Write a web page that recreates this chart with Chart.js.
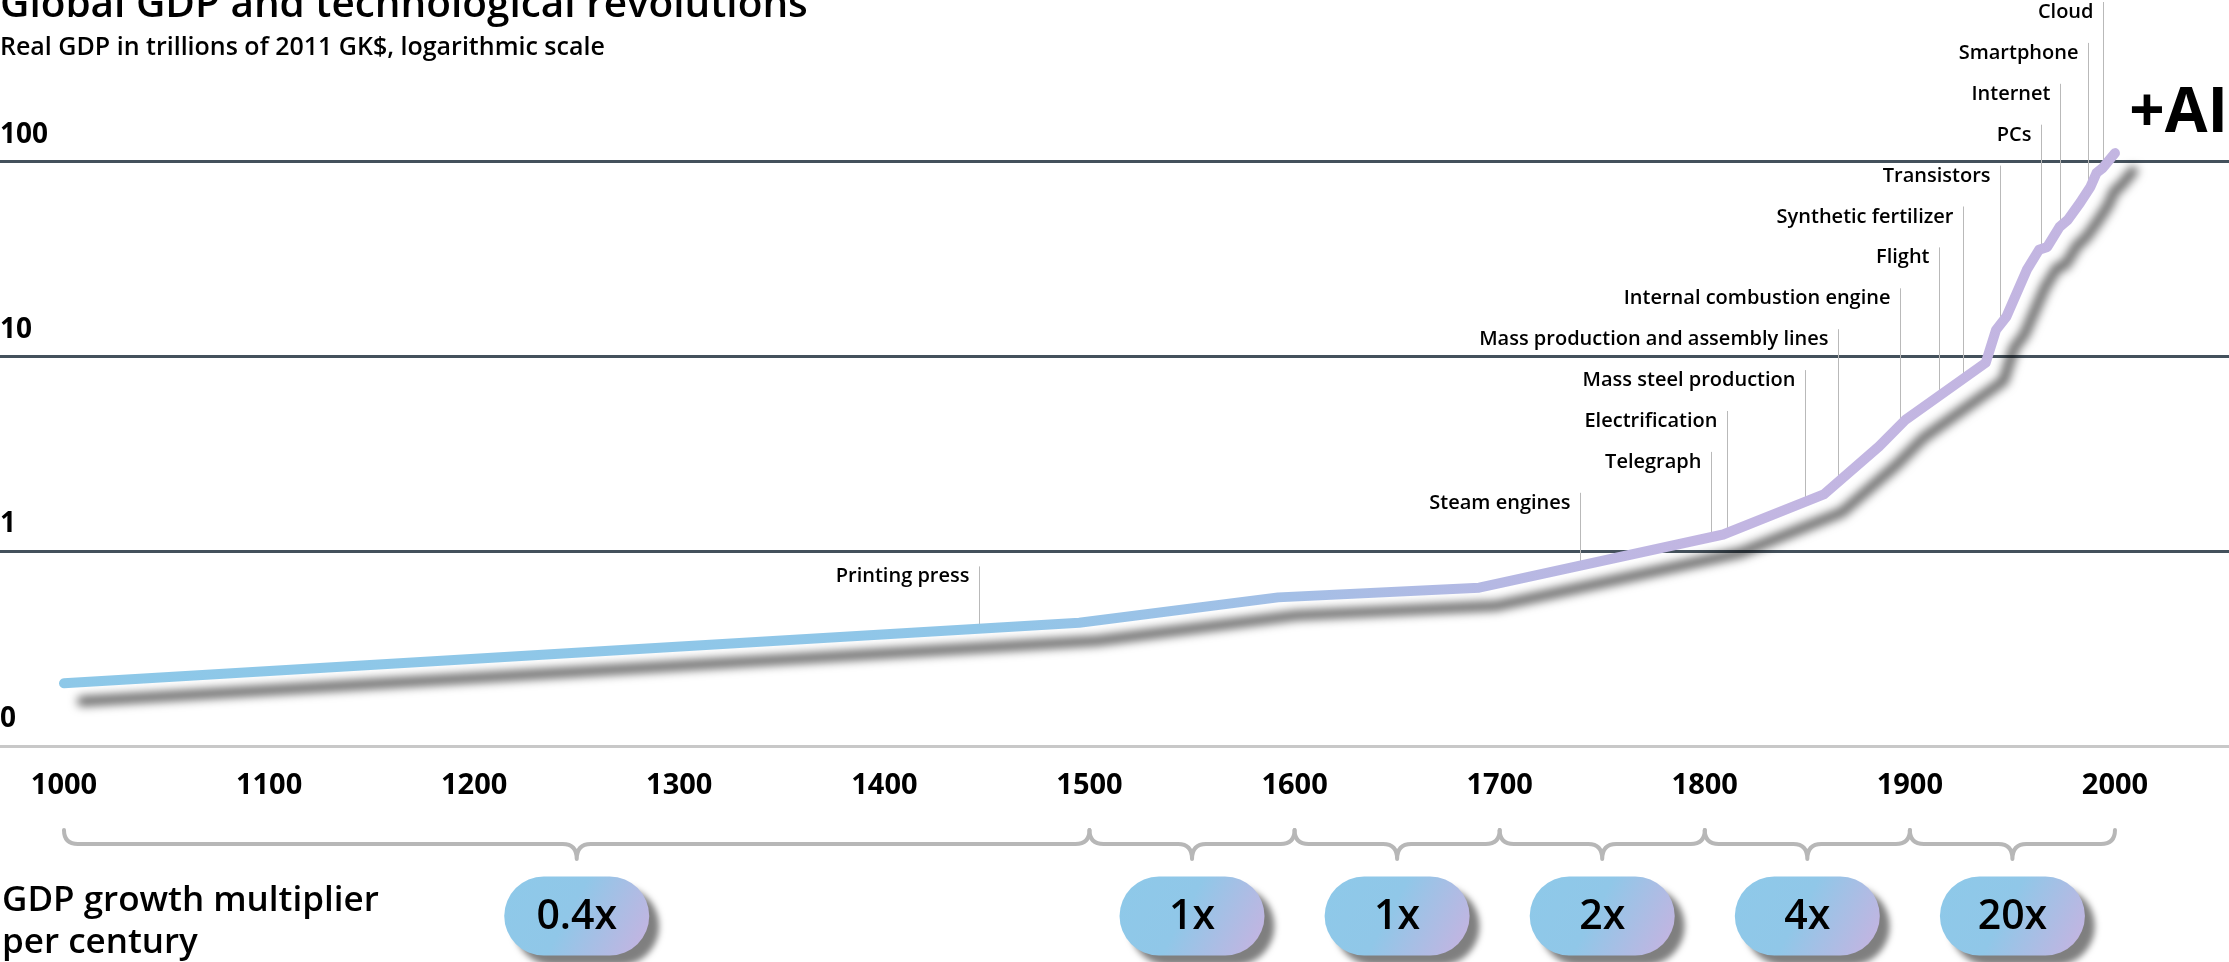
<!DOCTYPE html>
<html>
<head>
<meta charset="utf-8">
<title>Global GDP and technological revolutions</title>
<script src="https://cdn.jsdelivr.net/npm/chart.js@4.4.1/dist/chart.umd.min.js"></script>
<style>
  html, body { margin: 0; padding: 0; background: #fff; }
  #wrap { width: 2229px; height: 962px; position: relative; overflow: hidden; }
</style>
</head>
<body>
<div id="wrap"><canvas id="gdpChart"></canvas></div>
<script>
// --- data ---
const years = [1000, 1495, 1592, 1690, 1809, 1858, 1885, 1898, 1937, 1942, 1947, 1957, 1963, 1967, 1973, 1977, 1983, 1988, 1991, 1994, 2000];
const gdp = [0.21, 0.43, 0.58, 0.65, 1.22, 1.96, 3.46, 4.75, 9.3, 13.7, 16.0, 27.9, 35.4, 36.6, 46.4, 50.4, 61.7, 74.4, 87.8, 93.1, 111];

const xTicks = [1000, 1100, 1200, 1300, 1400, 1500, 1600, 1700, 1800, 1900, 2000];
const xTickLabels = ["1000", "1100", "1200", "1300", "1400", "1500", "1600", "1700", "1800", "1900", "2000"];
const yTicks = [0.1, 1, 10, 100];
const yTickLabels = ["0", "1", "10", "100"];

const eventNames = ["Printing press", "Steam engines", "Telegraph", "Electrification", "Mass steel production",
  "Mass production and assembly lines", "Internal combustion engine", "Flight", "Synthetic fertilizer",
  "Transistors", "PCs", "Internet", "Smartphone", "Cloud"];
const eventYears = [1446, 1739, 1803, 1811, 1849, 1865, 1895, 1914, 1926, 1944, 1964, 1973, 1987, 1994];

const periodStarts = [1000, 1500, 1600, 1700, 1800, 1900];
const periodEnds = [1500, 1600, 1700, 1800, 1900, 2000];
const multipliers = ["0.4x", "1x", "1x", "2x", "4x", "20x"];

const FONT = '"Open Sans", "Noto Sans", sans-serif';
Chart.defaults.font.family = FONT;
Chart.defaults.color = "#000";

// value of the series at any year (straight segments on the log scale)
function gdpAt(year) {
  for (let i = 1; i < years.length; i++) {
    if (year <= years[i]) {
      const t = (year - years[i - 1]) / (years[i] - years[i - 1]);
      const a = Math.log10(gdp[i - 1]);
      const b = Math.log10(gdp[i]);
      return Math.pow(10, a + t * (b - a));
    }
  }
  return gdp[gdp.length - 1];
}

// drop shadow under the line
const lineShadow = {
  id: "lineShadow",
  beforeDatasetDraw(chart) {
    const c = chart.ctx;
    c.save();
    c.shadowColor = "rgba(0,0,0,0.6)";
    c.shadowBlur = 10;
    c.shadowOffsetX = 18;
    c.shadowOffsetY = 18;
  },
  afterDatasetDraw(chart) {
    chart.ctx.restore();
  },
};

// leader lines + event names
const eventLabels = {
  id: "eventLabels",
  beforeDatasetsDraw(chart) {
    const { ctx, scales } = chart;
    const order = eventYears.map((_, i) => i).sort((a, b) => eventYears[b] - eventYears[a]);
    ctx.save();
    ctx.font = `600 20px ${FONT}`;
    ctx.textAlign = "right";
    ctx.textBaseline = "alphabetic";
    order.forEach((idx, row) => {
      const yr = eventYears[idx];
      const px = Math.round(scales.x.getPixelForValue(yr)) + 0.5;
      const r = yr < 1500 ? row + 0.8 : row;
      const top = 2 + r * 40.9;
      const bottom = scales.y.getPixelForValue(gdpAt(yr));
      ctx.strokeStyle = "#b9b9b9";
      ctx.lineWidth = 1;
      ctx.beginPath();
      ctx.moveTo(px, top);
      ctx.lineTo(px, bottom);
      ctx.stroke();
      ctx.fillStyle = "#000";
      ctx.fillText(eventNames[idx], px - 10, top + 16);
    });
    ctx.restore();
  },
};

// title, +AI, braces and multiplier bubbles
const decorations = {
  id: "decorations",
  afterDraw(chart) {
    const { ctx, scales } = chart;
    ctx.save();
    ctx.fillStyle = "#000";
    ctx.textAlign = "left";
    ctx.textBaseline = "alphabetic";
    ctx.font = `600 40.5px ${FONT}`;
    ctx.fillText("Global GDP and technological revolutions", 0, 17);
    ctx.font = `600 25px ${FONT}`;
    ctx.fillText("Real GDP in trillions of 2011 GK$, logarithmic scale", 0, 55);

    ctx.font = `700 62px ${FONT}`;
    ctx.textAlign = "right";
    ctx.fillText("+AI", 2228, 132);

    ctx.textAlign = "left";
    ctx.font = `600 35px ${FONT}`;
    ctx.fillText("GDP growth multiplier", 2, 911);
    ctx.fillText("per century", 2, 953);

    // braces
    ctx.strokeStyle = "#b7b7b7";
    ctx.lineWidth = 4;
    ctx.lineCap = "round";
    ctx.lineJoin = "round";
    const yTop = 830, yBar = 844, yTip = 859, k = 14;
    periodStarts.forEach((s, i) => {
      const x0 = scales.x.getPixelForValue(s);
      const x1 = scales.x.getPixelForValue(periodEnds[i]);
      const mid = (x0 + x1) / 2;
      ctx.beginPath();
      ctx.moveTo(x0, yTop);
      ctx.quadraticCurveTo(x0, yBar, x0 + k, yBar);
      ctx.lineTo(mid - k, yBar);
      ctx.quadraticCurveTo(mid, yBar, mid, yTip);
      ctx.quadraticCurveTo(mid, yBar, mid + k, yBar);
      ctx.lineTo(x1 - k, yBar);
      ctx.quadraticCurveTo(x1, yBar, x1, yTop);
      ctx.stroke();
    });

    // bubbles
    const bw = 145, bh = 79, cy = 916;
    multipliers.forEach((m, i) => {
      const x0 = scales.x.getPixelForValue(periodStarts[i]);
      const x1 = scales.x.getPixelForValue(periodEnds[i]);
      const cx = (x0 + x1) / 2;
      const l = cx - bw / 2, t = cy - bh / 2, r = bh / 2;
      ctx.save();
      ctx.beginPath();
      ctx.moveTo(l + r, t);
      ctx.lineTo(l + bw - r, t);
      ctx.arc(l + bw - r, cy, r, -Math.PI / 2, Math.PI / 2);
      ctx.lineTo(l + r, t + bh);
      ctx.arc(l + r, cy, r, Math.PI / 2, Math.PI * 1.5);
      ctx.closePath();
      const g = ctx.createLinearGradient(l, t, l + bw, t + bh);
      g.addColorStop(0, "#8ec9e9");
      g.addColorStop(0.45, "#90c7e8");
      g.addColorStop(1, "#c9b2e0");
      ctx.fillStyle = g;
      ctx.shadowColor = "rgba(0,0,0,0.5)";
      ctx.shadowBlur = 6;
      ctx.shadowOffsetX = 10;
      ctx.shadowOffsetY = 10;
      ctx.fill();
      ctx.restore();
      ctx.fillStyle = "#000";
      ctx.font = `600 41px ${FONT}`;
      ctx.textAlign = "center";
      ctx.textBaseline = "middle";
      ctx.fillText(m, cx, cy + 1);
    });
    ctx.restore();
  },
};

function lineGradient(c) {
  const { chart } = c;
  const area = chart.chartArea;
  if (!area) return "#8ec9e9";
  const g = chart.ctx.createLinearGradient(area.left, 0, area.right, 0);
  g.addColorStop(0, "#8dc8e8");
  g.addColorStop(0.44, "#90c6e8");
  g.addColorStop(0.58, "#a4bfe6");
  g.addColorStop(0.67, "#b5b8e3");
  g.addColorStop(0.76, "#c2b6e2");
  g.addColorStop(1, "#c3b5e1");
  return g;
}

new Chart(document.getElementById("gdpChart"), {
  type: "line",
  data: {
    datasets: [
      {
        label: "Real GDP",
        data: years.map((yr, i) => ({ x: yr, y: gdp[i] })),
        borderColor: lineGradient,
        borderWidth: 10,
        borderCapStyle: "round",
        borderJoinStyle: "round",
        pointRadius: 0,
        tension: 0,
        fill: false,
        clip: false,
      },
    ],
  },
  options: {
    responsive: true,
    maintainAspectRatio: false,
    devicePixelRatio: 1,
    animation: false,
    layout: { padding: 0 },
    plugins: {
      legend: { display: false },
      tooltip: { enabled: false },
    },
    scales: {
      x: {
        type: "linear",
        min: 968.8,
        max: 2055.6,
        afterBuildTicks: (s) => {
          s.ticks = xTicks.map((v) => ({ value: v }));
        },
        afterFit: (s) => {
          s.height = 216;
          s.paddingLeft = 0;
          s.paddingRight = 0;
        },
        grid: { display: false, drawTicks: false },
        border: { display: false },
        ticks: {
          autoSkip: false,
          maxRotation: 0,
          padding: 22,
          font: { size: 29, weight: "700" },
          color: "#000",
          callback: (v, i) => xTickLabels[i],
        },
      },
      y: {
        type: "logarithmic",
        min: 0.1,
        max: 679,
        afterBuildTicks: (s) => {
          s.ticks = yTicks.map((v) => ({ value: v }));
        },
        afterFit: (s) => {
          s.width = 0;
          s.paddingTop = 0;
          s.paddingBottom = 0;
        },
        grid: {
          drawTicks: false,
          lineWidth: 3,
          color: (c) => (c.tick && c.tick.value === 0.1 ? "#c8c8c8" : "#44515c"),
        },
        border: { display: false },
        ticks: {
          mirror: true,
          padding: 0,
          labelOffset: -27,
          font: { size: 28, weight: "700" },
          color: "#000",
          callback: (v, i) => yTickLabels[i],
        },
      },
    },
  },
  plugins: [lineShadow, eventLabels, decorations],
});
</script>
</body>
</html>
